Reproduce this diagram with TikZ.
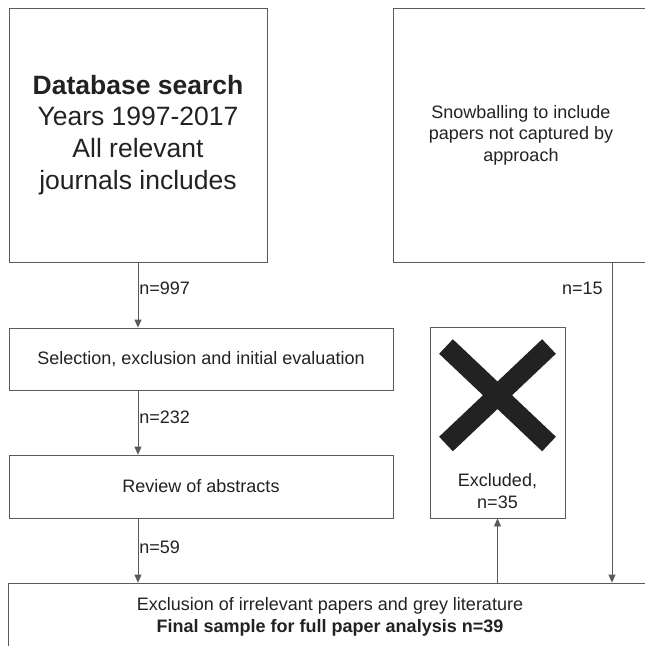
\documentclass[tikz,border=0pt]{standalone}
\usepackage{fontspec}
\setmainfont{Liberation Sans}
\usetikzlibrary{arrows.meta}
\definecolor{ink}{HTML}{222222}
\definecolor{edge}{HTML}{5A5A5A}

\begin{document}
\begin{tikzpicture}[x=1pt, y=-1pt]
\tikzstyle{box} = [draw=edge, line width=0.8pt, inner sep=4pt, align=center, text=ink, font=\fontsize{18}{21.6}\selectfont]
\tikzstyle{flow} = [draw=edge, line width=0.8pt, -{Triangle[length=8pt, width=7pt]}]
\tikzstyle{num} = [text=ink, font=\fontsize{18}{21.6}\selectfont, inner sep=1pt, align=center]

\useasboundingbox (0,0) rectangle (645,646);
\clip (0,0) rectangle (645,646);

\node[box, minimum width=258pt, minimum height=254pt, font=\fontsize{26.5}{31.8}\selectfont] (db) at (138,135) {\textbf{Database search}\\Years 1997-2017\\All relevant\\journals includes};
\node[box, minimum width=256pt, minimum height=254pt] (snow) at (521,135) {Snowballing to include\\papers not captured by\\approach};
\node[box, minimum width=384pt, minimum height=62pt] (sel) at (201,359) {Selection, exclusion and initial evaluation};
\node[box, minimum width=384pt, minimum height=63pt] (rev) at (201,486.5) {Review of abstracts};
\node[box, minimum width=135pt, minimum height=191pt] (excl) at (497.5,422.5) {};
\node[num] (excltxt) at (497.5,491) {Excluded,\\n=35};
\node[box, minimum width=644pt, minimum height=68pt] (final) at (330,617) {Exclusion of irrelevant papers and grey literature\\\textbf{Final sample for full paper analysis n=39}};

% the cross
\draw[ink, line width=20pt] (446,346.5) -- (549,444) (549,346.5) -- (446,444);

%\draw [flow] (db) -- (sel)
\foreach \from/\to/\cnt/\p in {db/sel/997/.39, sel/rev/232/.42, rev/final/59/.45}
\draw[flow] (db |- \from.south) -- node[num, right, pos=\p] {n=\cnt} (db |- \to.north);
\draw[flow] (excl |- final.north) -- (excl.south);
\coordinate (sx) at (612,0);
\draw[flow] (snow.south -| sx) -- node[num, left=8pt, pos=.08] {n=15} (final.north -| sx);
\end{tikzpicture}
\end{document}
